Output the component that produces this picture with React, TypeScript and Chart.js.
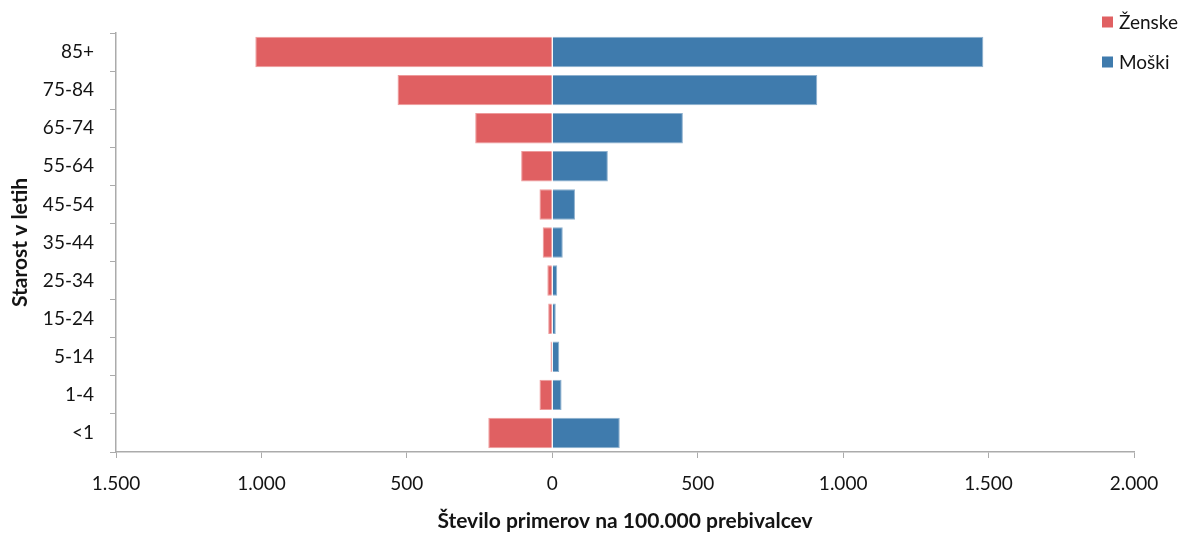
import React, { useEffect, useRef } from "react";
import { Chart, registerables } from "chart.js";

Chart.register(...registerables);

const categories = ["85+", "75-84", "65-74", "55-64", "45-54", "35-44", "25-34", "15-24", "5-14", "1-4", "<1"];
const women = [-1021, -532, -265, -107, -44, -33, -17, -14, -6, -44, -220];
const men = [1482, 911, 449, 191, 78, 36, 17, 12, 24, 32, 232];
const seriesNames = ["Ženske", "Moški"];
const xTitle = "Število primerov na 100.000 prebivalcev";
const yTitle = "Starost v letih";

const RED = "#E06062";
const BLUE = "#3F7BAD";
const GRID = "#ABABAB";
const TEXT = "#141414";
const FONT = "Lato";

function fmt(v: number): string {
  const s = String(Math.abs(Math.round(v)));
  return s.replace(/\B(?=(\d{3})+(?!\d))/g, ".");
}

const legendPlugin = {
  id: "customLegend",
  afterDraw(chart: any) {
    const ctx = chart.ctx;
    ctx.save();
    const items = chart.data.datasets;
    items.forEach((ds: any, i: number) => {
      const cy = 22 + i * 40;
      ctx.fillStyle = ds.backgroundColor;
      ctx.fillRect(1102, cy - 5.5, 11, 11);
      ctx.fillStyle = TEXT;
      ctx.font = `19px ${FONT}`;
      ctx.textBaseline = "middle";
      ctx.textAlign = "left";
      ctx.fillText(ds.label, 1119, cy + 1);
    });
    ctx.restore();
  },
};

export default function App() {
  const ref = useRef<HTMLCanvasElement>(null);
  useEffect(() => {
    if (!ref.current) return;
    const chart = new Chart(ref.current, {
      type: "bar",
      data: {
        labels: categories,
        datasets: [
          {
            label: seriesNames[0],
            data: women,
            backgroundColor: RED,
            borderColor: "#EE9A9B",
            borderWidth: 1,
            barPercentage: 0.8,
            categoryPercentage: 1.0,
          },
          {
            label: seriesNames[1],
            data: men,
            backgroundColor: BLUE,
            borderColor: "#8DB0CE",
            borderWidth: 1,
            barPercentage: 0.8,
            categoryPercentage: 1.0,
          },
        ],
      },
      options: {
        indexAxis: "y",
        responsive: false,
        animation: false,
        layout: { padding: { left: 0, right: 57, top: 33, bottom: 0 } },
        plugins: {
          legend: { display: false },
          tooltip: { enabled: false },
        },
        scales: {
          x: {
            stacked: true,
            min: -1500,
            max: 2000,
            ticks: {
              stepSize: 500,
              padding: 14,
              color: TEXT,
              font: { family: FONT, size: 19 },
              callback: (v: any) => fmt(Number(v)),
              maxRotation: 0,
            },
            grid: { drawOnChartArea: false, drawTicks: true, tickLength: 6, color: GRID },
            border: { display: true, color: GRID, width: 1.5 },
            title: {
              display: true,
              text: xTitle,
              color: TEXT,
              font: { family: FONT, size: 21, weight: "bold" },
              padding: { top: 0, bottom: 1 },
            },
            afterFit: (scale: any) => {
              scale.height = 83;
            },
          },
          y: {
            stacked: true,
            ticks: {
              padding: 16,
              color: TEXT,
              font: { family: FONT, size: 19 },
            },
            grid: { drawOnChartArea: false, drawTicks: true, tickLength: 6, color: GRID, offset: true },
            border: { display: true, color: GRID, width: 1.5 },
            title: {
              display: true,
              text: yTitle,
              color: TEXT,
              font: { family: FONT, size: 21, weight: "bold" },
              padding: { top: 8, bottom: 0 },
            },
            afterFit: (scale: any) => {
              scale.width = 116;
            },
          },
        },
      },
      plugins: [legendPlugin],
    } as any);
    return () => chart.destroy();
  }, []);
  return (
    <div style={{ position: "absolute", left: 0, top: 0, width: 1191, height: 535 }}>
      <canvas ref={ref} width={1191} height={535} style={{ display: "block" }} />
    </div>
  );
}
